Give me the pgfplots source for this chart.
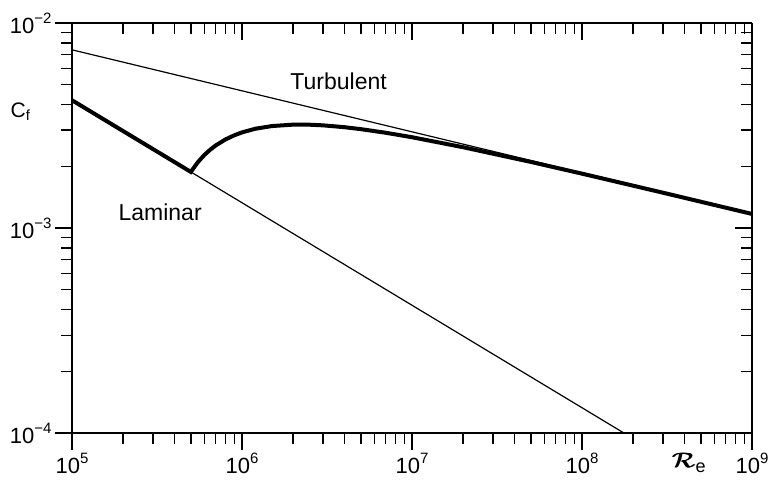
\documentclass[border=0pt]{standalone}
\usepackage{fontspec}
\setmainfont{Liberation Sans}
\usepackage{graphicx}
\usepackage{pgfplots}
\pgfplotsset{compat=1.18}

% power-of-ten tick label with a large raised exponent
\newcommand\pw[1]{10\raisebox{10pt}{\fontsize{15}{15}\selectfont #1}}
% heavier, wider calligraphic R for the Reynolds number
\newcommand\bigR{\scalebox{1.3}[1]{\rlap{$\mathcal{R}$}\kern0.5pt\rlap{$\mathcal{R}$}\kern0.5pt$\mathcal{R}$}}

\pgfplotsset{
  every axis/.append style={
    scale only axis, width=680pt, height=410pt,
    xmin=1e5, xmax=1e9, ymin=1e-4, ymax=1e-2,
    axis line style={line width=1.4pt, -},
    xtick={1e5,1e6,1e7,1e8,1e9}, ytick={1e-4,1e-3,1e-2},
    minor xtick={2e5,3e5,4e5,5e5,6e5,7e5,8e5,9e5,
                 2e6,3e6,4e6,5e6,6e6,7e6,8e6,9e6,
                 2e7,3e7,4e7,5e7,6e7,7e7,8e7,9e7,
                 2e8,3e8,4e8,5e8,6e8,7e8,8e8,9e8},
    minor ytick={2e-4,3e-4,4e-4,5e-4,6e-4,7e-4,8e-4,9e-4,
                 2e-3,3e-3,4e-3,5e-3,6e-3,7e-3,8e-3,9e-3},
    major tick length=17pt, minor tick length=11pt,
    tick style={line width=1.4pt, black},
  },
}

\begin{document}
\begin{tikzpicture}
% top and right edges, ticks pointing into the plot
\begin{loglogaxis}[
  axis x line*=top, axis y line*=right,
  tick align=inside,
  xticklabels={}, yticklabels={},
]
\end{loglogaxis}

% bottom and left edges, ticks pointing out
\begin{loglogaxis}[
  axis x line*=bottom, axis y line*=left,
  tick align=outside,
  xticklabels={\pw{5},\pw{6},\pw{7},\pw{8},\pw{9}},
  yticklabels={\pw{−4},\pw{−3},\pw{−2}},
  xticklabel style={font=\fontsize{22}{26}\selectfont},
  yticklabel style={font=\fontsize{22}{26}\selectfont},
  clip mode=individual,
]
% turbulent flat plate: 0.074 Re^(-1/5)
\addplot[black, line width=1.2pt] coordinates {(1e5,0.0074) (1e9,0.0011728)};
% laminar (Blasius): 1.328 Re^(-1/2)
\addplot[black, line width=1.2pt] coordinates {(1e5,0.0041995) (1e9,0.000042)};
% mixed laminar/turbulent with transition at Re = 5e5
\addplot[black, line width=4pt, line join=miter] coordinates {
  (1e5,0.0041995) (5e5,0.0018781) (5.5e5,0.0020948) (6e5,0.002270)
  (6.5e5,0.0024092) (7e5,0.002527) (8e5,0.002705) (9e5,0.0028327)
  (1e6,0.002927) (1.2e6,0.0030502) (1.5e6,0.003143) (2e6,0.0031937)
  (2.5e6,0.0031905) (3e6,0.003168) (4e6,0.0031033) (5e6,0.003036)
  (7e6,0.0029151) (1e7,0.002772) (2e7,0.0024775) (5e7,0.0021004)
  (1e8,0.0018414) (3e8,0.001486) (1e9,0.0011711)};

\node[font=\fontsize{23}{26}\selectfont] at (axis cs:3.7e6,5.21e-3) {Turbulent};
\node[font=\fontsize{23}{26}\selectfont] at (axis cs:3.3e5,1.197e-3) {Laminar};
\node[font=\fontsize{21}{24}\selectfont, anchor=base east, xshift=-38pt]
  at (rel axis cs:0,0.77) {C\textsubscript{f}};
\node[anchor=base, yshift=-34pt, xshift=12pt, inner sep=0pt]
  at (axis cs:3.6e8,1e-4)
  {\fontsize{20}{24}\selectfont\bigR\raisebox{-5pt}{\fontsize{18}{22}\selectfont e}};
\end{loglogaxis}

\pgfresetboundingbox
\useasboundingbox (-72pt,-48pt) rectangle (701pt,433pt);
\end{tikzpicture}
\end{document}
